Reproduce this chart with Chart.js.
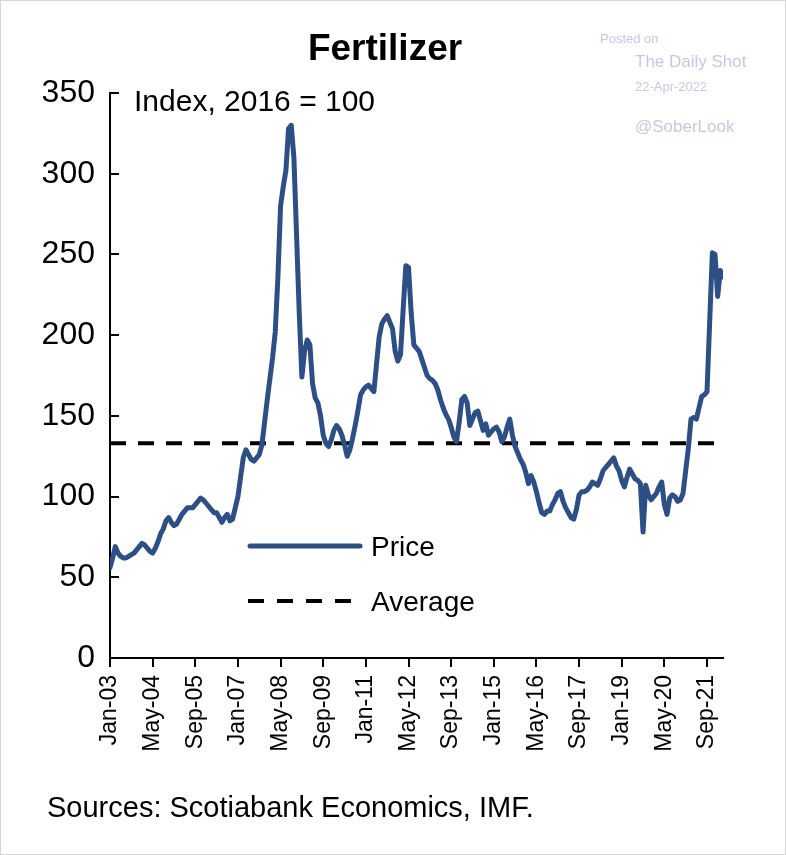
<!DOCTYPE html>
<html>
<head>
<meta charset="utf-8">
<script src="https://cdn.jsdelivr.net/npm/chart.js@4/dist/chart.umd.min.js"></script>
<style>
  html, body { margin: 0; padding: 0; background: #fff; }
  canvas { display: block; }
</style>
</head>
<body>
<canvas id="myChart" width="786" height="855"></canvas>
<script>
const ctx = document.getElementById('myChart').getContext('2d');
const FONT = 'Arial, "Liberation Sans", sans-serif';

// monthly fertilizer price index, Jan-03 .. Mar-22 (2016 = 100)
const startYear = 2003;
const monthNames = ['Jan', 'Feb', 'Mar', 'Apr', 'May', 'Jun', 'Jul', 'Aug', 'Sep', 'Oct', 'Nov', 'Dec'];
const priceIndex = [
    56, 62, 69, 65, 63, 62, 62, 63, 64, 65, 67, 69,          // 2003
    71, 70, 68, 66, 65, 68, 72, 77, 80, 85, 87, 84,          // 2004
    82, 83, 86, 89, 91, 93, 93, 93, 95, 97, 99, 98,          // 2005
    96, 94, 92, 90, 90, 87, 84, 87, 89, 85, 86, 93,          // 2006
    100, 112, 124, 129, 126, 123, 122, 124, 126, 132, 146, 160, // 2007
    173, 186, 202, 236, 280, 292, 302, 328, 330, 310, 262, 214, // 2008
    174, 190, 197, 194, 170, 161, 158, 150, 138, 133, 131, 135, // 2009
    141, 144, 142, 138, 132, 125, 129, 136, 144, 153, 163, 166, // 2010
    168, 169, 167, 165, 182, 199, 207, 210, 212, 208, 204, 190, // 2011
    184, 188, 216, 243, 242, 214, 194, 192, 190, 185, 180, 175, // 2012
    173, 172, 170, 166, 160, 155, 151, 148, 143, 137, 134, 146, // 2013
    160, 162, 158, 144, 148, 152, 153, 147, 141, 145, 138, 140, // 2014
    142, 143, 140, 134, 137, 143, 148, 138, 131, 127, 123, 120, // 2015
    115, 108, 113, 109, 103, 96, 90, 89, 91, 91, 95, 98,     // 2016
    102, 103, 97, 93, 90, 87, 86, 92, 101, 103, 103, 104,    // 2017
    106, 109, 108, 107, 111, 116, 118, 120, 122, 124, 119, 116, // 2018
    110, 106, 112, 117, 114, 111, 110, 108, 78, 107, 101, 98, // 2019
    100, 102, 106, 109, 95, 89, 99, 101, 100, 97, 98, 102,   // 2020
    116, 130, 148, 149, 148, 155, 162, 163, 165, 208, 251, 250, // 2021
    224, 240, 236                                             // 2022
];
const averageValue = 133;
const yTicks = [0, 50, 100, 150, 200, 250, 300, 350];
const tickEvery = 16; // months between x labels

const monthLabels = priceIndex.map((v, i) => {
    const m = i % 12;
    const y = startYear + Math.floor(i / 12);
    return monthNames[m] + '-' + String(y % 100).padStart(2, '0');
});
const lastIdx = priceIndex.length - 1;

const BLUE = '#2D4F86';

const chrome = {
    id: 'chrome',
    beforeDraw(chart) {
        const c = chart.ctx;
        c.save();
        c.fillStyle = '#fff';
        c.fillRect(0, 0, chart.width, chart.height);
        c.restore();
    },
    afterDraw(chart) {
        const c = chart.ctx;
        const area = chart.chartArea;
        const y = chart.scales.y;
        c.save();
        // inward ticks on the value axis
        c.strokeStyle = '#000';
        c.lineWidth = 2;
        y.ticks.forEach(t => {
            const py = Math.round(y.getPixelForValue(t.value));
            c.beginPath();
            c.moveTo(area.left, py);
            c.lineTo(area.left + 9, py);
            c.stroke();
        });

        c.fillStyle = '#000';
        c.textBaseline = 'alphabetic';
        c.textAlign = 'center';
        c.font = 'bold 37px ' + FONT;
        c.fillText('Fertilizer', 385, 60);

        c.textAlign = 'left';
        c.font = '30px ' + FONT;
        c.fillText('Index, 2016 = 100', 134, 111);

        // legend
        c.strokeStyle = BLUE;
        c.lineWidth = 5;
        c.lineCap = 'round';
        c.beginPath();
        c.moveTo(250, 546);
        c.lineTo(360, 546);
        c.stroke();
        c.lineCap = 'butt';
        c.strokeStyle = '#000';
        c.lineWidth = 4;
        c.setLineDash([16, 13]);
        c.beginPath();
        c.moveTo(248, 601);
        c.lineTo(356, 601);
        c.stroke();
        c.setLineDash([]);
        c.font = '28px ' + FONT;
        c.fillText('Price', 371, 556);
        c.fillText('Average', 371, 611);

        c.font = '29px ' + FONT;
        c.fillText('Sources: Scotiabank Economics, IMF.', 47, 817);

        // watermark
        c.fillStyle = '#c6c9de';
        c.font = '13px ' + FONT;
        c.fillText('Posted on', 600, 43);
        c.font = '17px ' + FONT;
        c.fillText('The Daily Shot', 635, 67);
        c.font = '13px ' + FONT;
        c.fillText('22-Apr-2022', 635, 91);
        c.font = '17px ' + FONT;
        c.fillText('@SoberLook', 635, 132);

        // thin frame
        c.strokeStyle = '#d4d4d4';
        c.lineWidth = 1;
        c.strokeRect(0.5, 0.5, chart.width - 1, chart.height - 1);
        c.restore();
    }
};

const myChart = new Chart(ctx, {
    type: 'line',
    data: {
        datasets: [{
            label: 'Price',
            data: priceIndex.map((v, i) => ({ x: i, y: v })),
            borderColor: BLUE,
            borderWidth: 5,
            pointRadius: 0,
            tension: 0,
            borderJoinStyle: 'round',
            borderCapStyle: 'round'
        }, {
            label: 'Average',
            data: [{ x: 0, y: averageValue }, { x: lastIdx, y: averageValue }],
            borderColor: '#000',
            borderWidth: 4,
            borderDash: [16, 12],
            pointRadius: 0
        }]
    },
    options: {
        responsive: false,
        animation: false,
        devicePixelRatio: 1,
        layout: { padding: { top: 93, right: 63, left: 0, bottom: 0 } },
        plugins: {
            legend: { display: false },
            title: { display: false },
            tooltip: { enabled: false }
        },
        scales: {
            x: {
                type: 'linear',
                min: 0,
                max: lastIdx,
                afterFit: s => { s.height = 197; },
                afterBuildTicks: s => {
                    s.ticks = monthLabels
                        .map((l, i) => i)
                        .filter(i => i % tickEvery === 0)
                        .map(i => ({ value: i }));
                },
                ticks: {
                    autoSkip: false,
                    maxRotation: 90,
                    minRotation: 90,
                    padding: 8,
                    color: '#000',
                    font: { family: FONT, size: 23 },
                    callback: v => monthLabels[v]
                },
                grid: {
                    display: true,
                    drawOnChartArea: false,
                    drawTicks: true,
                    tickLength: 9,
                    color: '#000',
                    lineWidth: 2
                },
                border: { display: true, color: '#000', width: 2 }
            },
            y: {
                min: 0,
                max: 350,
                afterFit: s => { s.width = 110; },
                afterBuildTicks: s => { s.ticks = yTicks.map(v => ({ value: v })); },
                ticks: {
                    padding: 15,
                    color: '#000',
                    font: { family: FONT, size: 32 }
                },
                grid: {
                    display: true,
                    drawOnChartArea: false,
                    drawTicks: false
                },
                border: { display: true, color: '#000', width: 2 }
            }
        }
    },
    plugins: [chrome]
});
</script>
</body>
</html>
